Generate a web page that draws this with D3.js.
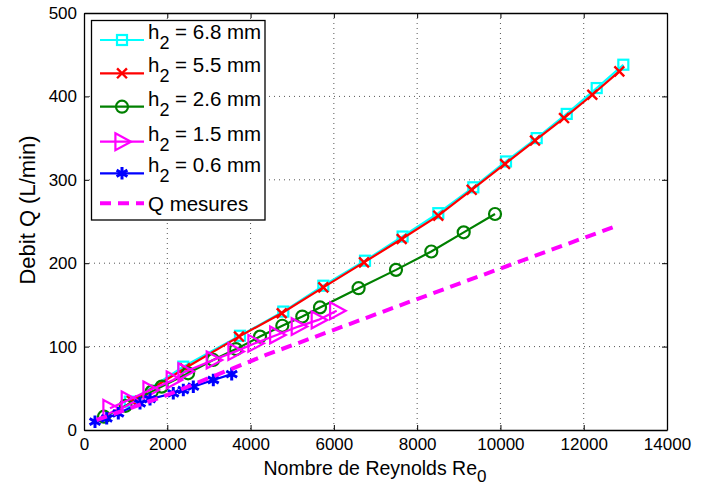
<!DOCTYPE html>
<html><head><meta charset="utf-8">
<script src="https://cdn.jsdelivr.net/npm/d3@7"></script>
<style>body{margin:0;background:#fff;} text{font-family:"Liberation Sans",Arial,sans-serif;}</style>
</head><body><svg id="c" width="720" height="489"></svg>
<script>
const xTicks=[0,2000,4000,6000,8000,10000,12000,14000];
const yTicks=[0,100,200,300,400,500];
const labels=["6.8","5.5","2.6","1.5","0.6"];
const s68=[[1100,34],[2385,76],[3746,113],[4786,142],[5747,173],[6748,203],[7651,232],[8508,260],[9349,291],[10134,322],[10871,350],[11592,379],[12312,410],[12951,438]];
const s55=[[1150,35],[2425,74],[3722,112],[4748,140],[5747,171],[6724,201],[7629,229],[8508,257],[9310,288],[10110,319],[10830,347],[11527,374],[12206,402],[12855,430]];
const s26=[[480,16],[1000,29],[1626,46],[1866,52],[2500,68],[3100,84],[3650,97],[4227,112],[4762,125],[5242,136],[5667,147],[6594,170],[7492,192],[8340,214],[9118,237],[9870,259]];
const s15=[[624,26],[1064,36],[1585,48],[2144,60],[2425,70],[3105,84],[3626,94],[4106,104],[4628,114],[5146,124],[5626,132],[6068,143]];
const s06=[[264,10],[545,14],[824,20],[1345,32],[1585,37],[2144,44],[2385,48],[2625,52],[3105,60],[3547,67]];
const qMes=[[300,12],[2000,42],[4370,90],[8000,157],[12750,244]];

const svg=d3.select("#c");
const L=84,R=667,T=13,B=430;
const x=d3.scaleLinear().domain([0,14000]).range([L,R]);
const y=d3.scaleLinear().domain([0,500]).range([B,T]);

// grid
const g=svg.append("g");
xTicks.slice(1,-1).forEach(t=>g.append("line").attr("x1",x(t)).attr("x2",x(t)).attr("y1",T).attr("y2",B).attr("stroke","#555").attr("stroke-width",1).attr("stroke-dasharray","1,4"));
yTicks.slice(1,-1).forEach(t=>g.append("line").attr("y1",y(t)).attr("y2",y(t)).attr("x1",L).attr("x2",R).attr("stroke","#555").attr("stroke-width",1).attr("stroke-dasharray","1,4"));

// axes
const ax=svg.append("g").attr("transform",`translate(0,${B})`).call(d3.axisBottom(x).tickValues(xTicks).tickFormat(d3.format("d")).tickSizeInner(-5).tickSizeOuter(0).tickPadding(8));
const ay=svg.append("g").attr("transform",`translate(${L},0)`).call(d3.axisLeft(y).tickValues(yTicks).tickSizeInner(-5).tickSizeOuter(0).tickPadding(7));
const axt=svg.append("g").attr("transform",`translate(0,${T})`).call(d3.axisTop(x).tickValues(xTicks).tickFormat("").tickSizeInner(-5).tickSizeOuter(0));
const ayr=svg.append("g").attr("transform",`translate(${R},0)`).call(d3.axisRight(y).tickValues(yTicks).tickFormat("").tickSizeInner(-5).tickSizeOuter(0));
[ax,ay,axt,ayr].forEach(a=>{a.select(".domain").attr("stroke","#000").attr("stroke-width",1.3);a.selectAll(".tick line").attr("stroke","#000");a.selectAll("text").attr("font-size",17).attr("fill","#000").attr("font-family","Liberation Sans, Arial, sans-serif");});

// labels
svg.append("text").attr("x",375).attr("y",475).attr("text-anchor","middle").attr("font-size",19.5).text("Nombre de Reynolds Re").append("tspan").attr("dy",7).attr("font-size",17).text("0");
svg.append("text").attr("transform","translate(35,210) rotate(-90)").attr("text-anchor","middle").attr("font-size",22).text("Debit Q (L/min)");

const line=d3.line().x(d=>x(d[0])).y(d=>y(d[1]));
const tri=(s)=>`M${-s*0.55},${-s*0.7}L${s*0.75},0L${-s*0.55},${s*0.7}Z`;
const series=[
 {d:s68,c:"#00ffff",m:"sq"},
 {d:s55,c:"#ff0000",m:"x"},
 {d:s26,c:"#008000",m:"o"},
 {d:s15,c:"#ff00ff",m:"tri"},
 {d:s06,c:"#0000ff",m:"star"}
];
function marker(sel,m,c){
  if(m==="sq") sel.append("rect").attr("x",-5).attr("y",-5).attr("width",10).attr("height",10).attr("fill","none").attr("stroke",c).attr("stroke-width",2.2);
  else if(m==="x") sel.append("path").attr("d",d3.symbol(d3.symbolX,65)()).attr("fill","none").attr("stroke",c).attr("stroke-width",2.4);
  else if(m==="o") sel.append("circle").attr("r",6).attr("fill","none").attr("stroke",c).attr("stroke-width",2.2);
  else if(m==="tri") sel.append("path").attr("d",tri(12)).attr("fill","none").attr("stroke",c).attr("stroke-width",2.2);
  else if(m==="star") sel.append("path").attr("d",d3.symbol(d3.symbolAsterisk,110)()).attr("fill","none").attr("stroke",c).attr("stroke-width",3);
}
const pg=svg.append("g");
series.forEach(s=>{
  pg.append("path").datum(s.d).attr("d",line).attr("fill","none").attr("stroke",s.c).attr("stroke-width",2.2);
  s.d.forEach(p=>{const gg=pg.append("g").attr("transform",`translate(${x(p[0])},${y(p[1])})`);marker(gg,s.m,s.c);});
});
pg.append("path").datum(qMes).attr("d",line).attr("fill","none").attr("stroke","#ff00ff").attr("stroke-width",4).attr("stroke-dasharray","11,7");

// legend
const lg=svg.append("g");
lg.append("rect").attr("x",91.5).attr("y",20.5).attr("width",173.5).attr("height",199.5).attr("fill","#fff").attr("stroke","#000").attr("stroke-width",1.3);
const rowY=[40,73.3,106.7,141.7,173.3];
series.forEach((s,i)=>{
  const yy=rowY[i];
  lg.append("line").attr("x1",100).attr("x2",144).attr("y1",yy).attr("y2",yy).attr("stroke",s.c).attr("stroke-width",2.2);
  marker(lg.append("g").attr("transform",`translate(122,${yy})`),s.m,s.c);
  const t=lg.append("text").attr("x",148).attr("y",yy-1).attr("font-size",20.5);
  t.append("tspan").text("h");
  t.append("tspan").attr("dy",10).attr("font-size",18).text("2");
  t.append("tspan").attr("dy",-10).text(" = "+labels[i]+" mm");
});
lg.append("line").attr("x1",100).attr("x2",144).attr("y1",203.3).attr("y2",203.3).attr("stroke","#ff00ff").attr("stroke-width",4).attr("stroke-dasharray","11,7");
lg.append("text").attr("x",148).attr("y",210.5).attr("font-size",20.5).text("Q mesures");
</script></body></html>
